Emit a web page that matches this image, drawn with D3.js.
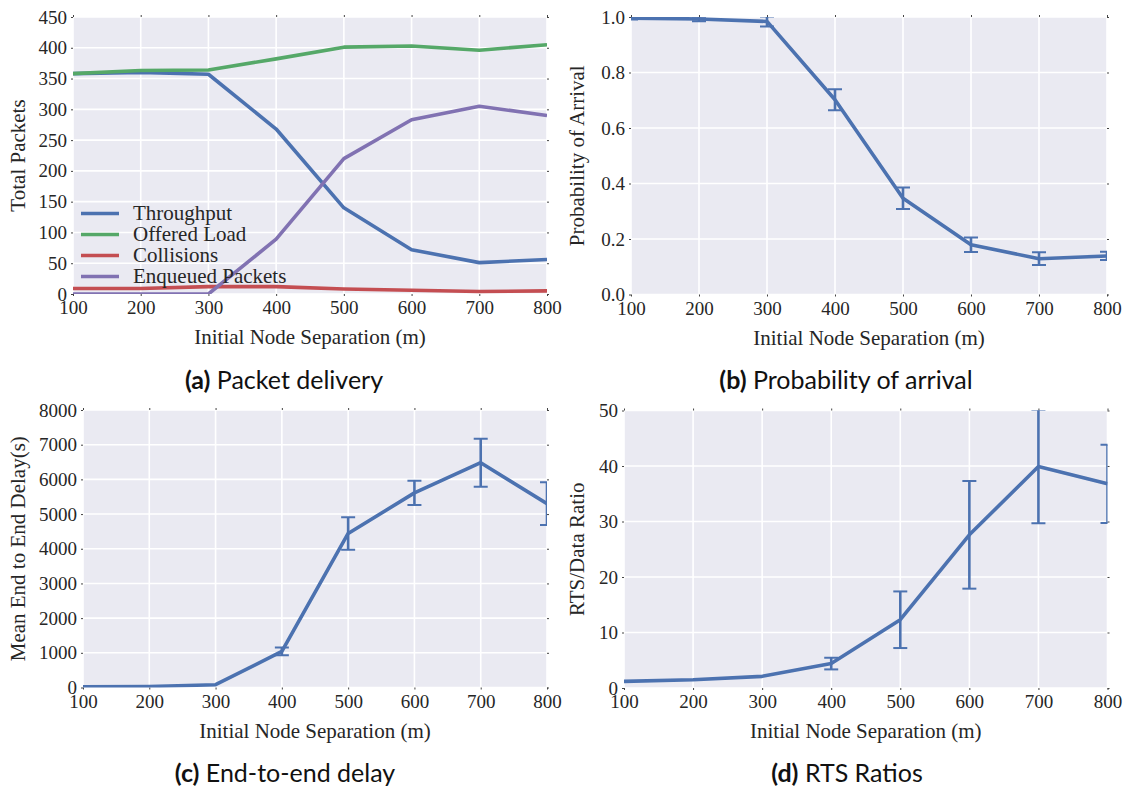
<!DOCTYPE html>
<html>
<head>
<meta charset="utf-8">
<script src="https://cdn.jsdelivr.net/npm/d3@7/dist/d3.min.js"></script>
<style>
  html, body { margin: 0; padding: 0; background: #ffffff; }
  svg { display: block; }
  .tick-label { font-family: "Liberation Serif", "Times New Roman", serif; font-size: 19px; fill: #262626; }
  .axis-label { font-family: "Liberation Serif", "Times New Roman", serif; font-size: 21px; fill: #262626; }
  .legend-label { font-family: "Liberation Serif", "Times New Roman", serif; font-size: 21px; fill: #262626; }
  .caption { font-family: Lato, "Open Sans", sans-serif; font-size: 25px; fill: #111; }
</style>
</head>
<body>
<svg id="chart" width="1127" height="790"></svg>
<script>
// ---------- data ----------
const separation = [100, 200, 300, 400, 500, 600, 700, 800];

// (a) Packet delivery
const throughput   = [358, 360, 357, 268, 140, 72, 51, 56];
const offeredLoad  = [358, 363, 364, 382, 401, 403, 396, 405];
const collisions   = [9, 9, 12, 12, 8, 6, 4, 5];
const enqueued     = [0, 0, 0, 89, 220, 283, 305, 290];
const seriesNamesA = ["Throughput", "Offered Load", "Collisions", "Enqueued Packets"];

// (b) Probability of arrival
const arrivalProb  = [0.996, 0.993, 0.984, 0.702, 0.347, 0.179, 0.129, 0.139];
const arrivalErr   = [0.005, 0.008, 0.018, 0.038, 0.039, 0.026, 0.023, 0.015];

// (c) End-to-end delay
const delayMean    = [20, 30, 80, 1040, 4440, 5610, 6480, 5300];
const delayErr     = [0, 0, 0, 110, 470, 350, 690, 615];

// (d) RTS ratios
const rtsRatio     = [1.2, 1.5, 2.1, 4.4, 12.3, 27.6, 39.9, 36.8];
const rtsErr       = [0, 0, 0, 1.05, 5.1, 9.7, 10.2, 7.05];

// tick values
const xTicks  = [100, 200, 300, 400, 500, 600, 700, 800];
const yTicksA = [0, 50, 100, 150, 200, 250, 300, 350, 400, 450];
const yTicksB = [0.0, 0.2, 0.4, 0.6, 0.8, 1.0];
const yTicksC = [0, 1000, 2000, 3000, 4000, 5000, 6000, 7000, 8000];
const yTicksD = [0, 10, 20, 30, 40, 50];

const xLabel = "Initial Node Separation (m)";

// ---------- styles ----------
const colors = { blue: "#4C72B0", green: "#55A868", red: "#C44E52", purple: "#8172B2" };
const svg = d3.select("#chart");

function panel(opts) {
  const { id, left, right, top, bottom, yDomain, yTicks, yFmt, yLabel, yLabelX, caption, captionX, captionY } = opts;
  const x = d3.scaleLinear().domain([100, 800]).range([left, right]);
  const y = d3.scaleLinear().domain(yDomain).range([bottom, top]);
  const g = svg.append("g");

  // background
  g.append("rect").attr("x", left).attr("y", top)
    .attr("width", right - left).attr("height", bottom - top).attr("fill", "#EAEAF2");

  // grid
  g.append("g").selectAll("line").data(xTicks).join("line")
    .attr("x1", d => x(d)).attr("x2", d => x(d)).attr("y1", top).attr("y2", bottom)
    .attr("stroke", "#ffffff").attr("stroke-width", 1.6);
  g.append("g").selectAll("line").data(yTicks).join("line")
    .attr("x1", left).attr("x2", right).attr("y1", d => y(d)).attr("y2", d => y(d))
    .attr("stroke", "#ffffff").attr("stroke-width", 1.6);

  // axes with tiny ticks
  const xAxisB = d3.axisBottom(x).tickValues(xTicks).tickSize(2).tickPadding(5).tickFormat(d3.format("d"));
  const xAxisT = d3.axisTop(x).tickValues(xTicks).tickSize(2).tickFormat("");
  const yAxisL = d3.axisLeft(y).tickValues(yTicks).tickSize(2).tickPadding(4).tickFormat(yFmt);
  const yAxisR = d3.axisRight(y).tickValues(yTicks).tickSize(2).tickFormat("");
  const styleAxis = sel => {
    sel.select(".domain").remove();
    sel.selectAll(".tick line").attr("stroke", "#444").attr("stroke-width", 1);
    sel.selectAll(".tick text").attr("class", "tick-label").attr("fill", "#262626").attr("font-size", null).attr("font-family", null);
  };
  g.append("g").attr("transform", `translate(0,${bottom})`).call(xAxisB).call(styleAxis);
  g.append("g").attr("transform", `translate(0,${top})`).call(xAxisT).call(styleAxis);
  g.append("g").attr("transform", `translate(${left},0)`).call(yAxisL).call(styleAxis);
  g.append("g").attr("transform", `translate(${right},0)`).call(yAxisR).call(styleAxis);
  g.selectAll(".tick text").attr("class", "tick-label");

  // labels
  g.append("text").attr("class", "axis-label").attr("text-anchor", "middle")
    .attr("x", (left + right) / 2).attr("y", bottom + 50).text(xLabel);
  g.append("text").attr("class", "axis-label").attr("text-anchor", "middle")
    .attr("transform", `translate(${yLabelX},${(top + bottom) / 2}) rotate(-90)`).text(yLabel);

  // caption
  const cap = g.append("text").attr("class", "caption").attr("text-anchor", "middle")
    .attr("x", captionX).attr("y", captionY);
  cap.append("tspan").attr("font-weight", "bold").text(caption[0]);
  cap.append("tspan").text(" " + caption[1]);

  // clip
  const clipId = "clip-" + id;
  svg.append("clipPath").attr("id", clipId).append("rect")
    .attr("x", left).attr("y", top).attr("width", right - left).attr("height", bottom - top);
  const plot = g.append("g").attr("clip-path", `url(#${clipId})`);
  return { x, y, plot };
}

function drawLine(p, values, color) {
  const line = d3.line().x((d, i) => p.x(separation[i])).y(d => p.y(d));
  p.plot.append("path").datum(values).attr("d", line)
    .attr("fill", "none").attr("stroke", color).attr("stroke-width", 3.6)
    .attr("stroke-linejoin", "round").attr("stroke-linecap", "butt");
}

function drawErrors(p, values, errs, color) {
  const eg = p.plot.append("g");
  separation.forEach((s, i) => {
    if (!errs[i]) return;
    const cx = p.x(s), y1 = p.y(values[i] - errs[i]), y2 = p.y(values[i] + errs[i]);
    eg.append("line").attr("x1", cx).attr("x2", cx).attr("y1", y1).attr("y2", y2)
      .attr("stroke", color).attr("stroke-width", 2.6);
    [y1, y2].forEach(yy => eg.append("line").attr("x1", cx - 7).attr("x2", cx + 7)
      .attr("y1", yy).attr("y2", yy).attr("stroke", color).attr("stroke-width", 2));
  });
}

// ---------- (a) ----------
const pa = panel({ id: "a", left: 73, right: 547, top: 17, bottom: 294, yDomain: [0, 450], yTicks: yTicksA,
  yFmt: d3.format("d"), yLabel: "Total Packets", yLabelX: 25,
  caption: ["(a)", "Packet delivery"], captionX: 284, captionY: 389 });
const seriesA = [throughput, offeredLoad, collisions, enqueued];
const colorsA = [colors.blue, colors.green, colors.red, colors.purple];
seriesA.forEach((s, i) => drawLine(pa, s, colorsA[i]));
// legend
const leg = svg.append("g");
seriesNamesA.forEach((name, i) => {
  const yy = 213.5 + i * 21;
  leg.append("line").attr("x1", 81).attr("x2", 119).attr("y1", yy).attr("y2", yy)
    .attr("stroke", colorsA[i]).attr("stroke-width", 3.6);
  leg.append("text").attr("class", "legend-label").attr("x", 133).attr("y", yy + 6.5).text(name);
});

// ---------- (b) ----------
const pb = panel({ id: "b", left: 631, right: 1107, top: 17, bottom: 294.5, yDomain: [0, 1.0], yTicks: yTicksB,
  yFmt: d3.format(".1f"), yLabel: "Probability of Arrival", yLabelX: 584,
  caption: ["(b)", "Probability of arrival"], captionX: 846, captionY: 389 });
drawErrors(pb, arrivalProb, arrivalErr, colors.blue);
drawLine(pb, arrivalProb, colors.blue);

// ---------- (c) ----------
const pc = panel({ id: "c", left: 83, right: 547, top: 410, bottom: 687.5, yDomain: [0, 8000], yTicks: yTicksC,
  yFmt: d3.format("d"), yLabel: "Mean End to End Delay(s)", yLabelX: 25,
  caption: ["(c)", "End-to-end delay"], captionX: 285, captionY: 782 });
drawErrors(pc, delayMean, delayErr, colors.blue);
drawLine(pc, delayMean, colors.blue);

// ---------- (d) ----------
const pd = panel({ id: "d", left: 624, right: 1107.5, top: 410.5, bottom: 688, yDomain: [0, 50], yTicks: yTicksD,
  yFmt: d3.format("d"), yLabel: "RTS/Data Ratio", yLabelX: 584,
  caption: ["(d)", "RTS Ratios"], captionX: 847, captionY: 782 });
drawErrors(pd, rtsRatio, rtsErr, colors.blue);
drawLine(pd, rtsRatio, colors.blue);
</script>
</body>
</html>
